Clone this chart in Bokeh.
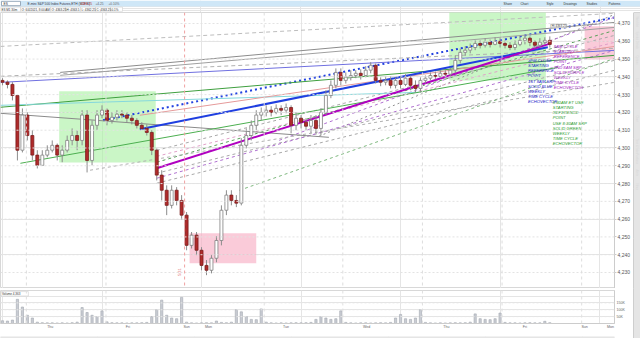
from bokeh.plotting import figure
from bokeh.models import (Range1d, LinearAxis, FixedTicker, ColumnDataSource,
                          Span, NumeralTickFormatter)
from bokeh.layouts import column, row
from bokeh.embed import file_html
from bokeh.resources import INLINE
from bokeh.core.properties import value
import math

FONT = "Liberation Sans"

# ---------------- data (ES futures) -------------
first_open = 4338.0
close = [4337.0, 4335.75, 4329.5, 4298.75, 4318.5, 4307.0, 4296.0, 4290.25, 4296.0, 4298.75,
         4301.5, 4296.0, 4298.75, 4304.25, 4307.0, 4304.25, 4318.5, 4293.0, 4312.75, 4318.5,
         4321.25, 4315.5, 4317.25, 4319.0, 4318.5, 4316.75, 4315.5, 4312.75, 4311.0, 4308.75,
         4298.75, 4284.75, 4276.25, 4267.75, 4276.25, 4270.5, 4262.25, 4245.25, 4251.0, 4242.5,
         4234.0, 4231.25, 4238.0, 4248.0, 4265.0, 4273.5, 4270.5, 4269.0, 4301.5, 4307.0,
         4312.75, 4318.5, 4320.0, 4321.25, 4320.0, 4322.25, 4321.25, 4322.75, 4312.75, 4316.75,
         4314.5, 4312.25, 4315.5, 4311.0, 4320.0, 4329.5, 4335.25, 4342.5, 4338.0, 4339.75,
         4340.75, 4342.0, 4340.75, 4343.75, 4346.5, 4338.0, 4337.0, 4338.0, 4335.25, 4338.0,
         4335.75, 4339.25, 4335.25, 4333.5, 4338.0, 4339.25, 4340.75, 4340.25, 4342.0, 4341.5,
         4343.75, 4349.25, 4353.75, 4355.0, 4356.5, 4358.75, 4357.75, 4359.5, 4358.25, 4360.0,
         4358.75, 4357.75, 4356.5, 4358.25, 4360.5, 4361.75, 4359.5, 4357.75, 4359.5, 4360.5, 4358.25]
high = [4339.25, 4338.0, 4337.0, 4329.5, 4322.25, 4320.0, 4310.0, 4298.75, 4298.75, 4301.5,
        4304.25, 4302.5, 4301.5, 4307.0, 4311.0, 4310.0, 4321.25, 4321.25, 4315.5, 4321.25,
        4324.0, 4322.25, 4320.0, 4321.25, 4321.25, 4320.0, 4318.5, 4316.75, 4314.5, 4313.25,
        4310.0, 4299.75, 4287.5, 4279.0, 4279.0, 4278.0, 4273.5, 4264.0, 4252.75, 4252.75,
        4244.25, 4237.0, 4239.75, 4250.5, 4267.75, 4276.25, 4276.25, 4273.5, 4305.5, 4311.0,
        4315.5, 4321.25, 4322.75, 4324.0, 4323.5, 4324.5, 4324.0, 4325.0, 4324.0, 4320.0,
        4318.5, 4316.75, 4318.5, 4318.5, 4322.25, 4332.5, 4338.0, 4344.75, 4344.75, 4342.5,
        4343.75, 4343.75, 4344.25, 4346.0, 4348.25, 4347.5, 4339.75, 4340.25, 4340.25, 4339.75,
        4340.25, 4341.5, 4340.75, 4338.0, 4339.75, 4340.75, 4342.5, 4343.0, 4343.75, 4343.75,
        4345.25, 4352.0, 4356.0, 4357.25, 4358.75, 4360.5, 4360.5, 4361.75, 4361.0, 4362.25,
        4361.75, 4360.5, 4359.5, 4360.5, 4362.75, 4363.25, 4362.75, 4360.5, 4361.75, 4362.25, 4362.75]
low = [4335.25, 4333.5, 4326.75, 4293.0, 4297.5, 4304.25, 4293.0, 4288.5, 4290.25, 4294.75,
       4297.5, 4293.0, 4292.0, 4297.5, 4301.5, 4298.75, 4301.5, 4286.25, 4290.25, 4310.0,
       4316.75, 4312.75, 4313.75, 4315.5, 4316.75, 4314.5, 4313.25, 4311.0, 4310.0, 4307.0,
       4296.0, 4281.75, 4270.5, 4262.25, 4266.0, 4267.75, 4259.5, 4242.5, 4243.5, 4239.75,
       4231.25, 4228.5, 4229.5, 4235.75, 4245.25, 4262.25, 4267.75, 4266.75, 4267.75, 4299.75,
       4304.25, 4310.0, 4315.5, 4317.75, 4317.75, 4319.0, 4318.5, 4319.5, 4308.25, 4310.0,
       4311.0, 4310.0, 4308.25, 4308.25, 4307.0, 4318.5, 4328.0, 4333.5, 4335.25, 4336.25,
       4338.0, 4339.25, 4338.5, 4339.75, 4342.0, 4336.25, 4334.75, 4335.25, 4333.5, 4333.5,
       4333.5, 4334.75, 4332.5, 4331.25, 4331.25, 4336.25, 4338.0, 4338.5, 4339.25, 4339.75,
       4340.25, 4342.0, 4347.5, 4352.0, 4353.25, 4355.0, 4356.0, 4356.5, 4356.5, 4357.75,
       4356.5, 4356.0, 4355.0, 4355.0, 4357.25, 4358.25, 4357.25, 4356.0, 4356.5, 4358.25, 4356.5]
volume = [20, 18, 25, 176, 120, 60, 40, 10, 6, 5,
          5, 4, 5, 4, 6, 10, 116, 80, 60, 50,
          92, 12, 6, 5, 5, 4, 5, 5, 6, 8,
          50, 100, 170, 60, 40, 35, 190, 10, 5, 4,
          5, 6, 5, 18, 8, 6, 10, 100, 85, 50,
          30, 28, 106, 10, 5, 4, 5, 4, 5, 6,
          5, 6, 8, 30, 50, 40, 30, 35, 92, 8,
          5, 4, 5, 5, 4, 5, 6, 5, 8, 40,
          66, 35, 30, 40, 100, 8, 5, 4, 5, 4,
          5, 6, 5, 6, 10, 70, 35, 30, 28, 35,
          76, 8, 5, 5, 4, 5, 6, 5, 5, 16, 6]

price_ticks = [4230, 4240, 4250, 4260, 4270, 4280, 4290, 4300, 4310, 4320, 4330, 4340, 4350, 4360, 4370]
volume_ticks = [50, 100, 150]
volume_labels = ["50K", "100K", "150K"]
day_ticks = [9.6, 25.2, 37.0, 41.4, 57.0, 73.2, 89.2, 105.0, 117.0, 122.2]
day_labels = ["Thu", "Fri", "Sun", "Mon", "Tue", "Wed", "Thu", "Fri", "Sun", "Mon"]
session_lines = [4.8, 20.8, 52.6, 68.4, 84.4, 100.4, 116.4]
weekend_line = 36.6

# zones (bar index from/to, price from/to)
green_zones = [(11.4, 30.8, 4291.9, 4331.9), (89.8, 109.2, 4338.0, 4377.4)]
pink_zones = [(37.6, 51.0, 4235.2, 4252.0), (117.0, 124.0, 4349.8, 4368.4)]

# trend lines: start bar, start price, end bar, end price
tl_x0 = [11.6, 11.6, -0.4, -0.4, -0.4, -0.4, -0.4, 27.6, 3.6, 27.6, 31.0, 20.2,
         31.0, 31.0, 31.0, 31.0, 31.0, 31.0, 63.6, 55.6, 47.6, -0.4, 17.6]
tl_y0 = [4342.5, 4340.85, 4340.3, 4336.9, 4322.9, 4324.0, 4319.5, 4318.4, 4291.4, 4310.5, 4288.6, 4315.6,
         4298.7, 4295.3, 4292.0, 4285.8, 4283.0, 4280.2, 4306.6, 4304.3, 4276.2, 4357.1, 4287.5]
tl_x1 = [123.0, 123.0, 123.0, 123.0, 123.0, 83.6, 65.6, 123.0, 111.6, 109.6, 110.2, 123.0,
         123.0, 123.0, 123.0, 123.0, 123.0, 123.0, 123.0, 123.0, 123.0, 123.0, 123.0]
tl_y1 = [4370.6, 4367.8, 4356.0, 4354.9, 4352.1, 4331.3, 4306.0, 4357.1, 4345.3, 4356.6, 4358.8, 4373.4,
         4363.3, 4359.4, 4366.1, 4349.3, 4354.9, 4343.7, 4375.1, 4373.5, 4350.4, 4375.7, 4336.9]
tl_color = ["#8c8c8c", "#a0a0a0", "#b0b0b0", "#7070e0", "#3f9f3f", "#86d8dc", "#8a8a8a", "#e59a9a",
            "#4caf50", "#1f3fe0", "#b000c0", "#2040e0",
            "#a8a8a8", "#e0a0c8", "#5aa05a", "#a8a8a8", "#b070d0", "#a8a8a8", "#909090", "#b070d0",
            "#7fb87f", "#bdbdbd", "#b0b0b0"]
tl_dash = ["solid", "solid", "4 3", "solid", "solid", "solid", "solid", "solid",
           "solid", "solid", "solid", "2 3",
           "3 3", "3 3", "3 3", "3 3", "3 3", "3 3", "2 3", "3 3", "3 3", "4 3", "3 3"]
tl_width = [1, 1, 1, 1, 1, 1, 1, 1, 1, 2, 2, 2,
            1, 1, 1, 1, 1, 1, 1, 1, 1, 1, 1]

purple_notes = ["8AM CYCLE", "STARTING", "REFERENCE", "POINT", "2ND 8AM SRP",
                "SOLID PURPLE", "WEEKLY", "TIME CYCLE", "ECHOVECTOR"]
blue_notes = ["3PM CLOSE", "STARTING", "REFERENCE", "POINT", "1ST 8AM SRP",
              "SOLID BLUE", "WEEKLY", "TIME CYCLE", "ECHOVECTOR"]
green_notes = ["8:30AM ET USE", "STARTING", "REFERENCE", "POINT", "USE 8:30AM SRP",
               "SOLID GREEN", "WEEKLY", "TIME CYCLE", "ECHOVECTOR"]

header_texts = ["ES M1 30m", "O: 6/4/2021, 8:00 AM", "O: 4363.25", "H: 4363.5",
                "L: 4362.25", "C: 4363.25", "0.1%"]
toolbar_texts = ["ES", "E-mini S&P 500 Index Futures,ETH (SCF:E)", "4363.25", "+4.25", "+0.10%",
                 "Share", "Chart", "Style", "Drawings", "Studies", "Patterns"]
side_tabs = ["Watchlist", "Symbol Details", "Options", "Level II", "Chart",
             "Time & Sales", "Positions", "Alerts", "News"]

X_RANGE = (-0.4, 123.0)

# ---------------- top strip: toolbar (6px) + legend row (6px) ----------------
tb = figure(width=640, height=12, x_range=Range1d(0, 640), y_range=Range1d(0, 12),
            toolbar_location=None, output_backend="svg", min_border=0,
            x_axis_location=None, y_axis_location=None)
tb.outline_line_color = None
tb.background_fill_color = "white"
tb.quad(left=[0], right=[640], bottom=[6], top=[12], fill_color="#cfe7f7", line_color=None)
tb.quad(left=[1], right=[20], bottom=[6.8], top=[11.2], fill_color="white", line_color="#9ab")
tb_x = [3, 27, 80, 95, 108, 503, 520, 546, 563, 586, 608]
tb_col = ["#333", "#334", "#c0392b", "#666", "#666", "#333", "#333", "#333", "#333", "#333", "#333"]
tb.text(x=tb_x, y=[9] * len(tb_x), text=toolbar_texts, text_color=tb_col,
        text_font=value(FONT), text_font_size="3.2px", text_baseline="middle")
cell_l = [0, 20, 50, 65, 80, 95, 110]
cell_r = [20, 50, 65, 80, 95, 110, 122]
tb.quad(left=cell_l, right=cell_r, bottom=[1.2] * 7, top=[5.4] * 7, fill_color="white",
        line_color="#d0d0d0", line_width=0.6)
tb.text(x=[c + 1 for c in cell_l], y=[3.3] * 7, text=header_texts, text_color="#333",
        text_font=value(FONT), text_font_size="3px", text_baseline="middle")

# ---------------- price panel ----------------
p = figure(width=633, height=276, x_range=Range1d(*X_RANGE), y_range=Range1d(4221.0, 4376.18),
           toolbar_location=None, output_backend="svg", min_border_left=0, min_border_right=16,
           min_border_top=0, min_border_bottom=0, x_axis_location=None, y_axis_location=None)
p.outline_line_color = "#d8d8d8"
p.background_fill_color = "white"

for t in price_ticks:
    p.add_layout(Span(location=t, dimension="width", line_color="#e3e3e3", line_dash="2 2", line_width=1))
for s in session_lines:
    p.add_layout(Span(location=s, dimension="height", line_color="#dddddd", line_dash="3 3", line_width=1))
p.add_layout(Span(location=weekend_line, dimension="height", line_color="#f0a0a0", line_dash="3 3", line_width=1))

yax = LinearAxis(ticker=FixedTicker(ticks=price_ticks), formatter=NumeralTickFormatter(format="0,0"))
yax.major_label_text_font_size = "5px"
yax.major_label_text_font = FONT
yax.major_label_text_color = "#555"
yax.major_tick_out = 2
yax.major_tick_in = 0
yax.minor_tick_out = 0
yax.major_label_standoff = 1
yax.axis_line_color = "#cccccc"
yax.major_tick_line_color = "#cccccc"
p.add_layout(yax, "right")

# zones
p.quad(left=[z[0] for z in green_zones], right=[z[1] for z in green_zones],
       bottom=[z[2] for z in green_zones], top=[z[3] for z in green_zones],
       fill_color="#a6f0a0", fill_alpha=0.6, line_color=None)
p.quad(left=[z[0] for z in pink_zones], right=[z[1] for z in pink_zones],
       bottom=[z[2] for z in pink_zones], top=[z[3] for z in pink_zones],
       fill_color="#f7a8c0", fill_alpha=0.6, line_color=None)

# trend lines
for dash in sorted(set(tl_dash)):
    ids = [k for k, d in enumerate(tl_dash) if d == dash]
    src_l = ColumnDataSource(dict(x0=[tl_x0[k] for k in ids], y0=[tl_y0[k] for k in ids],
                                  x1=[tl_x1[k] for k in ids], y1=[tl_y1[k] for k in ids],
                                  c=[tl_color[k] for k in ids], w=[tl_width[k] for k in ids]))
    p.segment(x0="x0", y0="y0", x1="x1", y1="y1", line_color="c", line_width="w",
              line_dash=dash, source=src_l)

# candles
opens = [first_open] + close[:-1]
idx = list(range(len(close)))
up = [c >= o for c, o in zip(close, opens)]
csrc = ColumnDataSource(dict(
    x=idx, h=high, l=low,
    top=[max(a, b) for a, b in zip(opens, close)],
    bot=[min(a, b) for a, b in zip(opens, close)],
    fill=["#ffffff" if u else "#b02a2a" for u in up],
    edge=["#808080" if u else "#7a1d1d" for u in up]))
p.segment(x0="x", y0="l", x1="x", y1="h", line_color="#8c8c8c", line_width=1, source=csrc)
p.vbar(x="x", width=0.6, top="top", bottom="bot", fill_color="fill", line_color="edge",
       line_width=0.8, source=csrc)

# notes
def notes(lines, x0, y0, color):
    step = 2.92
    p.text(x=[x0] * len(lines), y=[y0 - k * step for k in range(len(lines))], text=lines,
           text_color=color, text_font=value(FONT), text_font_size="4.2px",
           text_font_style="italic", text_baseline="middle")

notes(purple_notes, 110.8, 4357.2, "#a020c0")
notes(blue_notes, 105.6, 4349.3, "#2020c8")
notes(green_notes, 110.6, 4325.7, "#1f9a2a")

# small labels
p.quad(left=[110.2], right=[113.4], bottom=[4367.6], top=[4369.6], fill_color="white", line_color="#999",
       line_width=0.6)
p.text(x=[110.4], y=[4368.6], text=["Hi 4363.25"], text_font_size="3px", text_font=value(FONT),
       text_color="#444", text_baseline="middle")
p.text(x=[weekend_line - 0.5], y=[4228], text=["5/31"], angle=math.pi / 2, text_font_size="4px",
       text_font=value(FONT), text_color="#e06060")

# ---------------- volume panel ----------------
v = figure(width=633, height=43, x_range=p.x_range, y_range=Range1d(0, 240),
           toolbar_location=None, output_backend="svg", min_border_left=0, min_border_right=16,
           min_border_top=2, min_border_bottom=7, x_axis_location=None, y_axis_location=None)
v.outline_line_color = "#d8d8d8"
v.border_fill_color = "white"
for t in volume_ticks:
    v.add_layout(Span(location=t, dimension="width", line_color="#e6e6e6", line_dash="2 2"))
for s in session_lines:
    v.add_layout(Span(location=s, dimension="height", line_color="#e0e0e0", line_dash="3 3"))
v.vbar(x=idx, width=0.45, top=volume, bottom=0, fill_color="#c9ccd3", line_color="#a3a7b0", line_width=0.6)

vax = LinearAxis(ticker=FixedTicker(ticks=volume_ticks),
                 major_label_overrides={t: l for t, l in zip(volume_ticks, volume_labels)})
vax.major_label_text_font_size = "3.6px"
vax.major_label_text_color = "#666"
vax.major_tick_out = 0
vax.minor_tick_out = 0
vax.major_tick_in = 0
vax.major_label_standoff = 2
vax.axis_line_color = "#cccccc"
v.add_layout(vax, "right")

xax = LinearAxis(ticker=FixedTicker(ticks=day_ticks),
                 major_label_overrides={t: l for t, l in zip(day_ticks, day_labels)})
xax.major_label_text_font_size = "3.6px"
xax.major_label_text_color = "#666"
xax.major_tick_out = 0
xax.major_tick_in = 0
xax.minor_tick_out = 0
xax.major_label_standoff = 1
xax.axis_line_color = "#cccccc"
v.add_layout(xax, "below")
v.quad(left=[-0.3], right=[5.2], bottom=[200], top=[232], fill_color="white", line_color="#cfcfcf",
       line_width=0.6)
v.text(x=[-0.1], y=[216], text=["Volume  4,363"], text_font_size="3px", text_font=value(FONT),
       text_color="#333", text_baseline="middle")

# ---------------- scroll strip ----------------
sc = figure(width=633, height=7, x_range=Range1d(0, 633), y_range=Range1d(0, 7),
            toolbar_location=None, output_backend="svg", min_border=0,
            x_axis_location=None, y_axis_location=None)
sc.outline_line_color = None
sc.background_fill_color = "#e4e4e4"
sc.quad(left=[520], right=[567], bottom=[1.5], top=[5.5], fill_color="#c6c6c6", line_color=None)
sc.text(x=[596], y=[4.6], text=["Showing all data"], text_font_size="2.3px",
        text_font=value(FONT), text_color="#333", text_baseline="middle")

# ---------------- side bar ----------------
sb = figure(width=7, height=326, x_range=Range1d(0, 7), y_range=Range1d(0, 326),
            toolbar_location=None, output_backend="svg", min_border=0,
            x_axis_location=None, y_axis_location=None)
sb.outline_line_color = None
sb.background_fill_color = "#9d9d9d"
sb.quad(left=[0.5], right=[6.5], bottom=[216], top=[230], fill_color="#e6e6e6", line_color=None)
tab_y = [322, 307, 283, 260, 223, 200, 185, 169, 155]
sb.text(x=[3.5] * len(side_tabs), y=tab_y, text=side_tabs, angle=-math.pi / 2,
        text_font=value(FONT), text_font_size="2.6px", text_color="#d8d8d8",
        text_align="left", text_baseline="middle")

layout = column(tb, row(column(p, v, sc), sb))
open("out.html", "w").write(file_html(layout, INLINE))
